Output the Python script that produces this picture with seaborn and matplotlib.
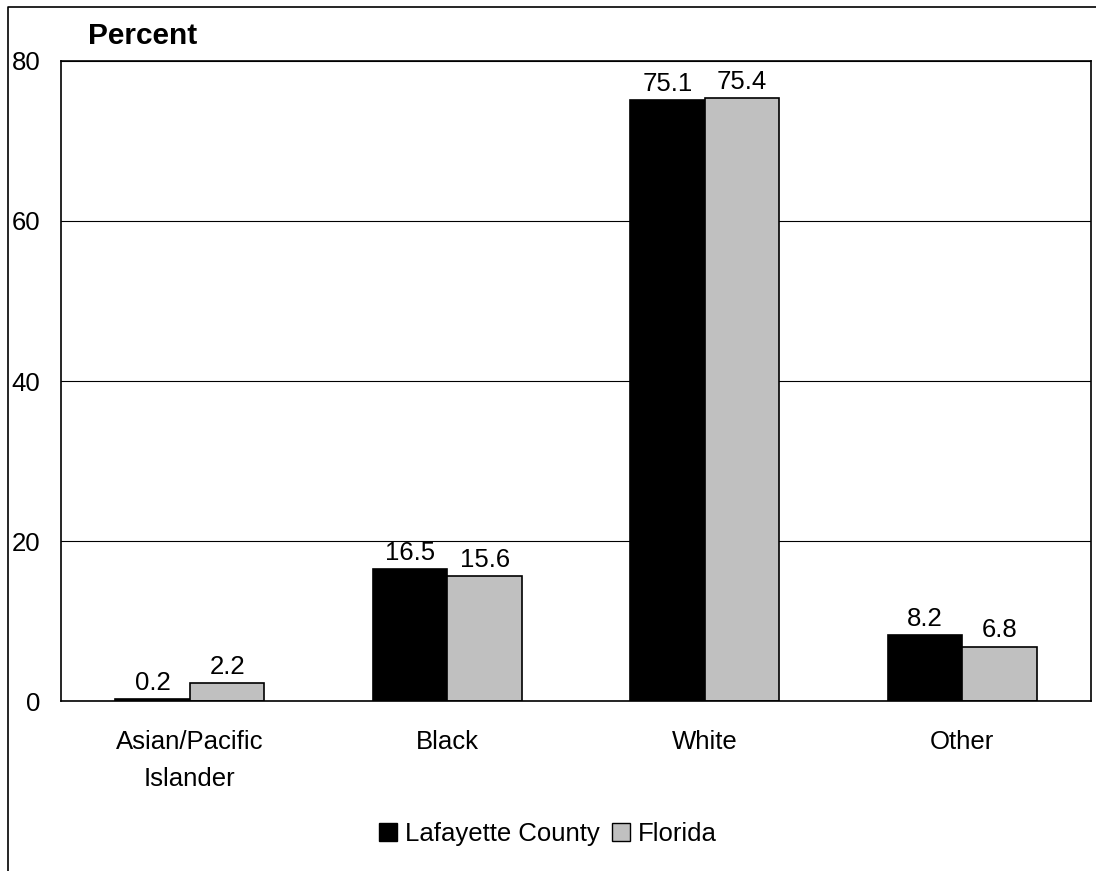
import pandas as pd
import matplotlib.pyplot as plt
import seaborn as sns
from matplotlib.lines import Line2D
from matplotlib.patches import Patch

# Data
categories = ['Asian/Pacific\nIslander', 'Black', 'White', 'Other']
groups = ['Lafayette County', 'Florida']
lafayette = [0.2, 16.5, 75.1, 8.2]
florida = [2.2, 15.6, 75.4, 6.8]
colors = ['#000000', '#C0C0C0']

df = pd.DataFrame({
    'race': categories * 2,
    'area': [groups[0]] * 4 + [groups[1]] * 4,
    'pct': lafayette + florida,
})

sns.set_theme(style='white')
plt.rcParams['font.family'] = ['Liberation Sans', 'DejaVu Sans']
plt.rcParams['text.color'] = 'black'

fs = 18.5

fig = plt.figure(figsize=(10.96, 8.71), dpi=100)
ax = fig.add_axes([61 / 1096, 1 - 701 / 871, 1030 / 1096, 640 / 871])

sns.barplot(data=df, x='race', y='pct', hue='area', palette=colors,
            width=0.58, gap=0, edgecolor='black', linewidth=1.2,
            saturation=1, ax=ax, legend=False)

for cont in ax.containers:
    ax.bar_label(cont, fmt='%.1f', padding=3, fontsize=fs, color='black')

ax.set_ylim(0, 80)
ax.set_xlim(-0.5, 3.5)
ax.set_yticks([0, 20, 40, 60, 80])
ax.yaxis.grid(True, color='black', linewidth=0.8)
ax.set_axisbelow(True)
ax.set_xlabel('')
ax.set_ylabel('')
for s in ax.spines.values():
    s.set_visible(True)
    s.set_color('black')
    s.set_linewidth(1.2)

ax.tick_params(axis='y', length=0, pad=15, labelsize=fs, colors='black')
ax.tick_params(axis='x', which='major', length=0, pad=21, labelsize=fs, colors='black')
ax.set_xticks([-0.5, 0.5, 1.5, 2.5, 3.5], minor=True)
ax.tick_params(axis='x', which='minor', length=6, width=1, direction='out', color='black')
for lbl in ax.get_xticklabels():
    lbl.set_linespacing(1.65)

fig.text(88 / 1096, 1 - 36 / 871, 'Percent', fontsize=21.5, fontweight='bold',
         va='center', ha='left')

handles = [Patch(facecolor=c, edgecolor='black', linewidth=1) for c in colors]
fig.legend(handles, groups, loc='center', bbox_to_anchor=(548 / 1096, 1 - 834 / 871),
           ncol=2, frameon=False, fontsize=fs, handlelength=0.7, handleheight=0.7,
           handletextpad=0.3, columnspacing=0.5)

# outer chart border (left and top visible)
fig.add_artist(Line2D([8 / 1096, 8 / 1096, 1.0], [0.0, 1 - 7 / 871, 1 - 7 / 871],
                      color='black', linewidth=1.2, transform=fig.transFigure))

fig.savefig('out.png', dpi=100, facecolor='white')
